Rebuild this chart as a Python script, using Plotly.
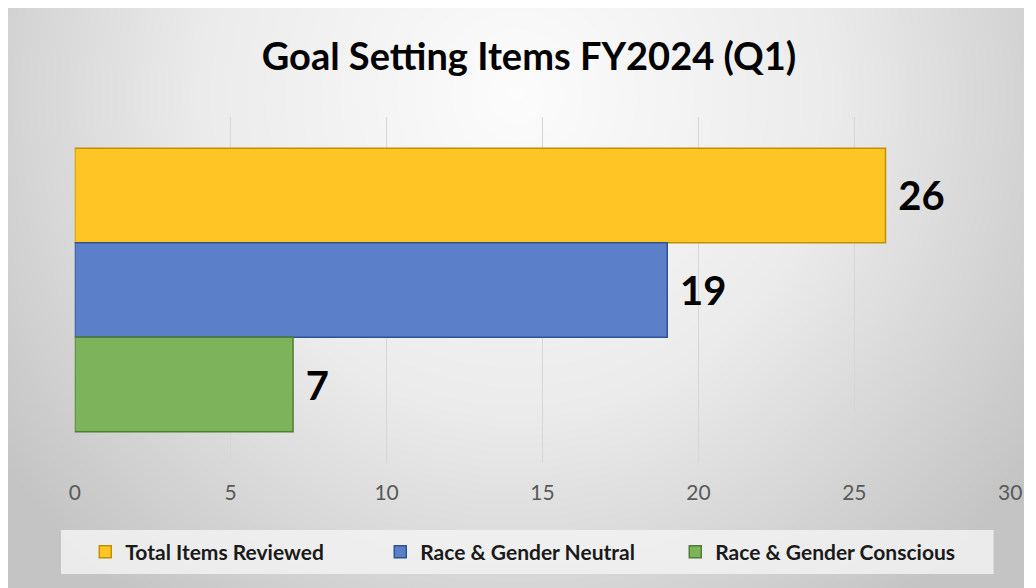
import numpy as np
import plotly.graph_objects as go

series = ["Total Items Reviewed", "Race & Gender Neutral", "Race & Gender Conscious"]
values = [26, 19, 7]
fills = ["#FFC524", "#5B80C9", "#7CB35B"]
borders = ["#BF9000", "#2F528F", "#507E32"]
x_ticks = [0, 5, 10, 15, 20, 25, 30]

W, H = 1036, 588

fig = go.Figure()

# soft radial shading behind everything (background only)
gx = np.linspace(0, 1, 80)
gy = np.linspace(0, 1, 50)
GX, GY = np.meshgrid(gx, gy)
shade = np.sqrt(((GX - 0.5) / 0.62) ** 2 + ((GY - 0.85) / 1.1) ** 2)
fig.add_trace(go.Heatmap(
    z=shade, x=gx, y=gy, zsmooth="best", showscale=False, hoverinfo="skip",
    colorscale=[[0, "#fcfcfc"], [0.5, "#ebebeb"], [1, "#c4c4c4"]],
    zmin=0, zmax=1, xaxis="x", yaxis="y",
))

for name, v, c, b in zip(series, values, fills, borders):
    fig.add_trace(go.Bar(
        y=[""], x=[v], name=name, orientation="h",
        marker=dict(color=c, line=dict(color=b, width=1.5)),
        text=[v], texttemplate=" %{x}", textposition="outside",
        textfont=dict(family="Lato", size=40, color="#000000", weight="bold"),
        cliponaxis=False, xaxis="x2", yaxis="y2",
    ))

# legend panel
fig.add_shape(type="rect", xref="paper", yref="paper",
              x0=56 / W, x1=1005 / W, y0=(H - 574) / H, y1=(H - 530) / H,
              fillcolor="rgba(242,242,242,0.85)", line_width=0, layer="above")

fig.update_layout(
    autosize=True,
    margin=dict(l=0, r=0, t=0, b=0),
    paper_bgcolor="white",
    plot_bgcolor="rgba(0,0,0,0)",
    barmode="group", bargap=0.18, bargroupgap=0,
    title=dict(text="<b>Goal Setting Items FY2024 (Q1)</b>", x=529 / W, xanchor="center",
               y=(H - 57) / H, yanchor="middle",
               font=dict(family="Lato", size=38, color="#000000")),
    xaxis=dict(domain=[2 / W, 1], range=[0, 1], visible=False, fixedrange=True),
    yaxis=dict(domain=[0, (H - 8) / H], range=[0, 1], visible=False, fixedrange=True),
    xaxis2=dict(domain=[70 / W, 1022 / W], range=[0, 30], tickvals=x_ticks,
                anchor="y2", showgrid=True, gridcolor="#d6d6d6", gridwidth=1,
                zeroline=False, showline=False, ticks="", ticklabelstandoff=15,
                tickfont=dict(family="Lato", size=21, color="#595959")),
    yaxis2=dict(domain=[(H - 463) / H, (H - 117) / H], anchor="x2",
                autorange="reversed", showticklabels=False, showgrid=False,
                zeroline=False, showline=False),
    legend=dict(orientation="h", x=531 / W, xanchor="center", y=(H - 552) / H,
                yanchor="middle", bgcolor="rgba(0,0,0,0)", entrywidth=250,
                entrywidthmode="pixels", traceorder="normal",
                font=dict(family="Lato", size=21, color="#1a1a1a", weight="bold")),
)

fit = ("document.body.style.margin='0';document.body.style.overflow='hidden';"
       "var gd=document.getElementById('{plot_id}');"
       "Plotly.relayout(gd,{width:window.innerWidth,height:window.innerHeight});")
fig.write_html("out.html", config={"displayModeBar": False},
               default_width="100vw", default_height="100vh", post_script=fit)
